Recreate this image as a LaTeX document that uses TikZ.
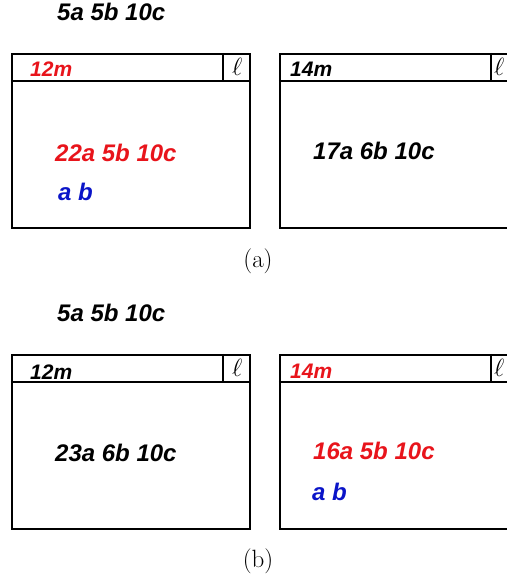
\documentclass[tikz,border=0pt]{standalone}
\usepackage{fontspec}
\usepackage{xcolor}
\newfontfamily\handfont{Liberation Sans}
\definecolor{Tally}{HTML}{E8141B}
\definecolor{Fresh}{HTML}{0A14C8}
\begin{document}
\begin{tikzpicture}[x=1pt,y=-1pt]
  \tikzset{
    panel/.style={draw, line width=2.4pt, minimum width=238pt, minimum height=174pt, inner sep=0pt},
    rule/.style={line width=2.4pt},
    count/.style={anchor=west, inner sep=0pt, font=\handfont\bfseries\itshape\fontsize{24}{26}\selectfont},
    owner/.style={anchor=west, inner sep=0pt, font=\handfont\bfseries\itshape\fontsize{21}{23}\selectfont},
    ellcell/.style={inner sep=0pt, font=\fontsize{26}{28}\selectfont},
    caption/.style={font=\fontsize{25}{28}\selectfont}
  }
  \useasboundingbox (0,0) rectangle (506,583);

  % (a)
  \node[count] (poolA) at (57,12) {5a 5b 10c};
  \node[panel] (leftA)  at (131,141) {};
  \node[panel] (rightA) at (399,141) {};
  \draw[rule] ([yshift=-28pt]leftA.north west) -- ([yshift=-28pt]leftA.north east);
  \draw[rule] ([xshift=-28pt]leftA.north east) -- ([xshift=-28pt,yshift=-28pt]leftA.north east);
  \draw[rule] ([yshift=-28pt]rightA.north west) -- ([yshift=-28pt]rightA.north east);
  \draw[rule] ([xshift=-28pt]rightA.north east) -- ([xshift=-28pt,yshift=-28pt]rightA.north east);
  \node[ellcell] (ellLA) at ([xshift=-14pt,yshift=-14pt]leftA.north east) {$\ell$};
  \node[ellcell] (ellRA) at ([xshift=-20pt,yshift=-14pt]rightA.north east) {$\ell$};
  \node[owner, text=Tally] (ownLA) at (30,69) {12m};
  \node[owner] (ownRA) at (290,69) {14m};
  \node[count, text=Tally] (handLA) at (55,153) {22a 5b 10c};
  \node[count, text=Fresh] (newLA) at (58,192) {a b};
  \node[count] (handRA) at (313,151) {17a 6b 10c};
  \node[caption] (capA) at (258,261) {(a)};

  % (b)
  \node[count] (poolB) at (57,313) {5a 5b 10c};
  \node[panel] (leftB)  at (131,442) {};
  \node[panel] (rightB) at (399,442) {};
  \draw[rule] ([yshift=-28pt]leftB.north west) -- ([yshift=-28pt]leftB.north east);
  \draw[rule] ([xshift=-28pt]leftB.north east) -- ([xshift=-28pt,yshift=-28pt]leftB.north east);
  \draw[rule] ([yshift=-28pt]rightB.north west) -- ([yshift=-28pt]rightB.north east);
  \draw[rule] ([xshift=-28pt]rightB.north east) -- ([xshift=-28pt,yshift=-28pt]rightB.north east);
  \node[ellcell] (ellLB) at ([xshift=-14pt,yshift=-14pt]leftB.north east) {$\ell$};
  \node[ellcell] (ellRB) at ([xshift=-20pt,yshift=-14pt]rightB.north east) {$\ell$};
  \node[owner] (ownLB) at (30,372) {12m};
  \node[owner, text=Tally] (ownRB) at (290,371) {14m};
  \node[count] (handLB) at (55,453) {23a 6b 10c};
  \node[count, text=Tally] (handRB) at (313,451) {16a 5b 10c};
  \node[count, text=Fresh] (newRB) at (312,492) {a b};
  \node[caption] (capB) at (258,561) {(b)};
\end{tikzpicture}
\end{document}
